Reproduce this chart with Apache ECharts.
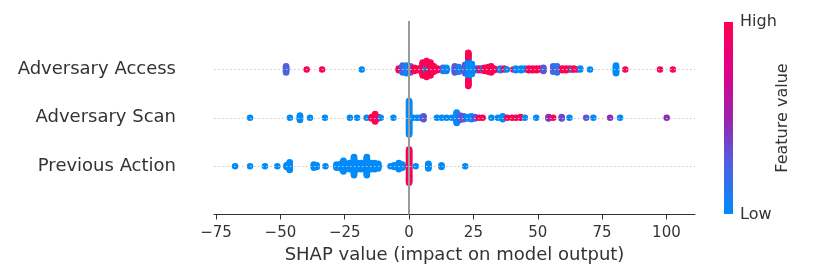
<!DOCTYPE html>
<html><head><meta charset="utf-8">
<script src="https://cdn.jsdelivr.net/npm/echarts@6/dist/echarts.min.js"></script>
<style>html,body{margin:0;padding:0;background:#fff}#c{width:830px;height:280px}</style>
</head><body><div id="c"></div>
<script>
// rows bottom -> top (y = 0, 1, 2)
const features = ['Previous Action', 'Adversary Scan', 'Adversary Access'];
const xTickValues = [-75, -50, -25, 0, 25, 50, 75, 100];
const xTickLabels = ['\u221275', '\u221250', '\u221225', '0', '25', '50', '75', '100'];
const xAxisTitle = 'SHAP value (impact on model output)';
const colorbarTitle = 'Feature value';
const colorbarHigh = 'High';
const colorbarLow = 'Low';

// Adversary Access: SHAP value, feature value (0 low .. 1 high), number of samples
const accessShap  = [-47.8,-39.8,-33.8,-18.4,-4.0,-2.5,-1.0,0.5,2.0,3.5,5.3,5.3,6.8,6.8,6.8,8.3,8.3,9.6,11.0,13.2,14.5,17.8,19.3,21.8,23.0,23.0,24.4,25.6,26.8,28.0,28.7,29.4,30.8,31.9,33.0,34.5,35.5,37.0,38.0,40.5,41.5,43.5,45.0,46.5,48.0,49.5,50.8,52.2,56.0,57.5,59.5,61.0,62.5,63.3,64.0,65.3,66.5,70.3,80.4,84.0,97.5,102.5];
const accessFeat  = [0.25,1,1,0,1,0.25,0,0.3,1,1,0,1,0,0.35,1,0,1,1,1,0.2,0,0.3,0.1,0.3,0,1,0,0,0.4,1,0,1,1,1,1,1,0,1,0,1,0,0,0,1,1,1,1,0.3,0.25,0.15,1,1,1,0,1,1,0,0,0,1,1,1];
const accessCount = [9,1,1,1,3,10,11,9,5,3,4,14,8,4,10,6,12,8,3,5,5,9,7,12,30,15,14,3,3,3,2,5,7,9,3,1,3,2,1,1,3,3,2,3,3,3,2,5,8,9,3,3,2,1,2,1,2,1,11,1,1,1];

// Adversary Scan
const scanShap  = [-61.8,-46.3,-42.4,-38.5,-32.7,-23.0,-20.2,-16.5,-14.5,-13.2,-12.0,-11.0,-6.1,0.0,1.5,3.0,4.2,5.6,10.8,12.7,14.6,16.6,18.5,19.8,21.2,22.8,24.2,25.6,27.2,28.6,32.0,34.5,36.4,38.2,40.0,41.5,43.3,45.0,49.4,54.2,56.0,59.3,62.3,68.8,71.6,78.1,82.0,100.1];
const scanFeat  = [0,0,0,0,0,0,0,0,1,1,1,0,0,0,0,0,0,0.3,0,0,0,0,0,0.25,0.3,0,0,0.3,1,1,0,0,0,1,1,1,1,0,0,0.45,1,0.35,0,0.3,0,0.45,0,0.45];
const scanCount = [1,1,7,1,1,1,1,1,3,11,3,1,1,45,1,1,1,5,1,1,1,1,15,7,5,3,5,3,1,1,1,1,5,1,1,1,2,1,1,3,1,3,1,1,1,1,1,1];

// Previous Action
const prevShap  = [-67.6,-61.8,-56.0,-51.2,-47.6,-46.4,-37.0,-35.9,-32.5,-28.2,-26.5,-25.5,-24.2,-23.0,-21.4,-20.0,-18.6,-16.4,-14.8,-13.4,-12.0,-7.2,-5.8,-4.0,-2.6,0.0,2.6,7.5,12.6,21.8];
const prevFeat  = [0,0,0,0,0,0,0,0,0,0,0,0,0,0,0,0,0,0,0,0,0,0,0,0,0,1,0,0,0,0];
const prevCount = [1,1,1,1,3,11,5,3,1,5,7,15,7,9,25,9,9,25,9,9,7,1,3,9,5,45,1,7,3,1];

// SHAP red_blue colormap (low -> high)
const cmap = ['#008bfb', '#4b63e3', '#9b23ad', '#e00086', '#ff0052'];

// beeswarm stacking as in shap: points sharing a value are stacked alternately around the row
function buildRow(shap, feat, count, rowY) {
  const layers = new Map();
  const pts = [];
  for (let i = 0; i < shap.length; i++) {
    for (let c = 0; c < count[i]; c++) {
      const layer = layers.get(shap[i]) || 0;
      layers.set(shap[i], layer + 1);
      const ys = Math.ceil(layer / 2) * ((layer % 2) * 2 - 1);
      pts.push([shap[i], ys, feat[i]]);
    }
  }
  const m = Math.max(...pts.map(p => p[1] + 1));
  const scale = 0.9 * 0.4 / m;
  return pts.map(p => [p[0], rowY + p[1] * scale, p[2]]);
}

const points = [].concat(
  buildRow(accessShap, accessFeat, accessCount, 2),
  buildRow(scanShap, scanFeat, scanCount, 1),
  buildRow(prevShap, prevFeat, prevCount, 0)
);

const font = 'DejaVu Sans';
const chart = echarts.init(document.getElementById('c'), null, {renderer: 'canvas'});
const dotted = {color: '#c8c8c8', width: 1, type: [1.5, 2.5]};
chart.setOption({
  animation: false,
  grid: {left: 214, right: 135, top: 21, bottom: 65.5, containLabel: false},
  xAxis: {
    type: 'value', min: -75.8, max: 111.1,
    axisLine: {show: true, onZero: false, lineStyle: {color: '#333', width: 1}},
    axisTick: {show: true, customValues: xTickValues, length: 5, lineStyle: {color: '#333', width: 1}},
    axisLabel: {customValues: xTickValues, formatter: v => xTickLabels[xTickValues.indexOf(v)],
      color: '#333', fontSize: 15, fontFamily: font, margin: 11},
    splitLine: {show: false},
    name: xAxisTitle, nameLocation: 'middle', nameGap: 32,
    nameTextStyle: {fontSize: 18, color: '#333', fontFamily: font}
  },
  yAxis: {
    type: 'value', min: -1, max: 3, interval: 1,
    axisLine: {show: false}, axisTick: {show: false}, splitLine: {show: false},
    axisLabel: {formatter: v => features[v] || '', fontSize: 18, color: '#333', fontFamily: font, margin: 38}
  },
  visualMap: {type: 'continuous', show: false, dimension: 2, min: 0, max: 1, seriesIndex: 1, inRange: {color: cmap}},
  series: [
    {type: 'line', data: [], z: 1, silent: true,
      markLine: {silent: true, symbol: 'none', label: {show: false}, animation: false,
        data: [
          {yAxis: 0, lineStyle: dotted}, {yAxis: 1, lineStyle: dotted}, {yAxis: 2, lineStyle: dotted},
          {xAxis: 0, lineStyle: {color: '#9a9a9a', width: 2, type: 'solid'}}
        ]}},
    {type: 'scatter', z: 3, symbolSize: 6.5, data: points, itemStyle: {opacity: 1}}
  ],
  graphic: [
    {type: 'rect', shape: {x: 724, y: 22, width: 9, height: 192},
      style: {fill: new echarts.graphic.LinearGradient(0, 0, 0, 1, [
        {offset: 0, color: cmap[4]}, {offset: 0.25, color: cmap[3]}, {offset: 0.5, color: cmap[2]},
        {offset: 0.75, color: cmap[1]}, {offset: 1, color: cmap[0]}])}},
    {type: 'text', x: 740, y: 22, style: {text: colorbarHigh, fontSize: 16, fontFamily: font, fill: '#333', align: 'left', verticalAlign: 'middle'}},
    {type: 'text', x: 740, y: 215, style: {text: colorbarLow, fontSize: 16, fontFamily: font, fill: '#333', align: 'left', verticalAlign: 'middle'}},
    {type: 'text', x: 783, y: 118, rotation: Math.PI / 2, style: {text: colorbarTitle, fontSize: 16, fontFamily: font, fill: '#333', align: 'center', verticalAlign: 'middle'}}
  ]
});
</script></body></html>
